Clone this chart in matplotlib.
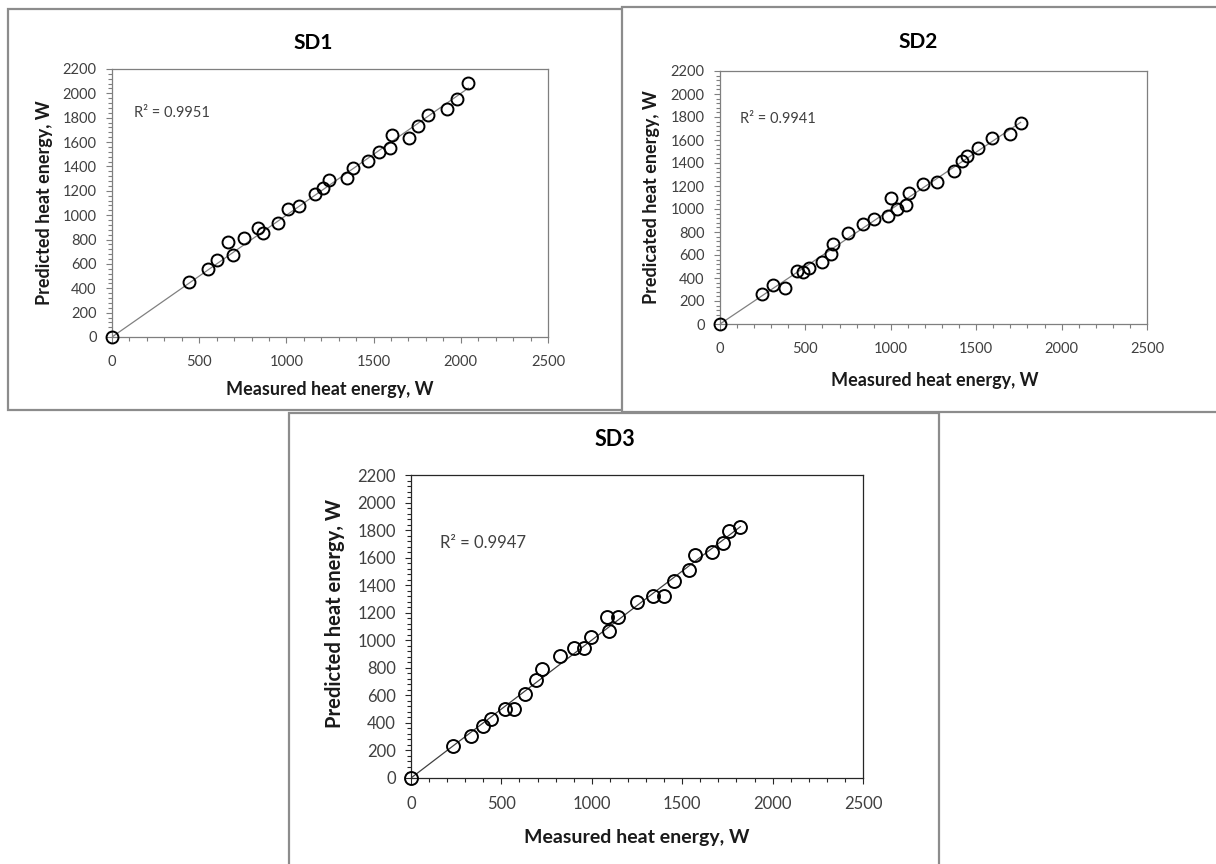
import numpy as np
import matplotlib
matplotlib.use("Agg")
import matplotlib.pyplot as plt
from matplotlib.patches import Rectangle
from matplotlib.ticker import MultipleLocator

plt.rcParams['font.family'] = ['Lato', 'DejaVu Sans']

W, H = 1216, 864

# values (W)
sd1_meas = [0, 443, 549, 600, 667, 692, 757, 835, 864, 954, 1007, 1070, 1164, 1212,
            1246, 1346, 1380, 1466, 1533, 1594, 1607, 1703, 1756, 1814, 1919, 1980, 2043]
sd1_pred = [0, 449, 556, 632, 777, 673, 810, 892, 851, 938, 1051, 1075, 1174, 1226,
            1289, 1303, 1390, 1445, 1516, 1549, 1658, 1636, 1735, 1822, 1872, 1951, 2088]

sd2_meas = [0, 244, 308, 381, 449, 484, 523, 595, 648, 663, 751, 839, 902, 982, 1001,
            1034, 1089, 1108, 1190, 1272, 1370, 1415, 1444, 1512, 1594, 1698, 1760]
sd2_pred = [0, 258, 339, 310, 464, 449, 490, 542, 606, 693, 794, 867, 910, 942, 1093,
            1000, 1035, 1136, 1215, 1237, 1330, 1417, 1461, 1527, 1614, 1652, 1750]

sd3_meas = [0, 230, 332, 400, 441, 520, 570, 631, 690, 726, 824, 902, 959, 996, 1086,
            1095, 1147, 1248, 1340, 1399, 1456, 1539, 1571, 1663, 1727, 1759, 1822]
sd3_pred = [0, 232, 305, 380, 426, 501, 499, 610, 712, 789, 886, 942, 942, 1026, 1167,
            1069, 1167, 1276, 1321, 1324, 1433, 1510, 1619, 1643, 1705, 1793, 1825]

r2_text = ["R\u00b2 = 0.9951", "R\u00b2 = 0.9941", "R\u00b2 = 0.9947"]
titles = ["SD1", "SD2", "SD3"]
ylabels = ["Predicted heat energy, W", "Predicated heat energy, W", "Predicted heat energy, W"]
xlabel = "Measured heat energy, W"


def fx(x):
    return x / W


def fy(y):
    return 1 - y / H


fig = plt.figure(figsize=(W / 100, H / 100), dpi=100)
fig.patch.set_facecolor("white")

# the three pasted chart boxes, later ones lie over earlier ones
frames = [(8, 9, 700, 410), (622, 7, 1240, 412), (289, 413, 939, 890)]
for i, (l, t, r, b) in enumerate(frames):
    fig.patches.append(Rectangle((fx(l), fy(b)), fx(r - l), (b - t) / H,
                                 transform=fig.transFigure, facecolor="white",
                                 edgecolor="#8c8c8c", linewidth=1.6, zorder=-3 + i))

panels = [
    dict(box=(112, 69, 548, 337), meas=sd1_meas, pred=sd1_pred, title=(313, 43),
         xl=(330, 390), yl=(45, 203), r2=(134, 113), fs_tick=10.5, fs_lab=13, fs_ylab=13,
         fs_title=15, line="#808080", spine="#7f7f7f", ms=8.6),
    dict(box=(720, 71, 1147, 324), meas=sd2_meas, pred=sd2_pred, title=(918, 42),
         xl=(935, 380), yl=(652, 197), r2=(740, 119), fs_tick=10.5, fs_lab=13, fs_ylab=13,
         fs_title=15, line="#808080", spine="#7f7f7f", ms=8.6),
    dict(box=(411, 475, 863, 778), meas=sd3_meas, pred=sd3_pred, title=(615, 439),
         xl=(637, 838), yl=(335, 614), r2=(440, 543), fs_tick=12, fs_lab=14, fs_ylab=14.5,
         fs_title=15.5, line="#404040", spine="#262626", ms=9.3),
]

for k, p in enumerate(panels):
    l, t, r, b = p["box"]
    ax = fig.add_axes([fx(l), fy(b), fx(r - l), (b - t) / H])
    x = np.array(p["meas"], dtype=float)
    y = np.array(p["pred"], dtype=float)
    # linear trendline through the origin
    slope = np.sum(x * y) / np.sum(x * x)
    xt = np.array([0, x.max()])
    ax.plot(xt, slope * xt, color=p["line"], linewidth=0.9, zorder=2)
    ax.plot(x, y, linestyle="none", marker="o", markersize=p["ms"],
            markerfacecolor="none", markeredgecolor="black", markeredgewidth=1.4,
            clip_on=False, zorder=3)
    ax.set_xlim(0, 2500)
    ax.set_ylim(0, 2200)
    ax.xaxis.set_major_locator(MultipleLocator(500))
    ax.xaxis.set_minor_locator(MultipleLocator(100))
    ax.yaxis.set_major_locator(MultipleLocator(200))
    ax.yaxis.set_minor_locator(MultipleLocator(40))
    for s in ax.spines.values():
        s.set_color(p["spine"])
        s.set_linewidth(0.9)
    ax.tick_params(which="both", direction="out", color=p["spine"], width=0.8,
                   labelcolor="#404040", labelsize=p["fs_tick"])
    ax.tick_params(which="major", length=4)
    ax.tick_params(which="minor", length=3)
    ax.tick_params(axis="x", which="major", pad=9)
    ax.tick_params(axis="y", which="major", pad=7)

    fig.text(fx(p["title"][0]), fy(p["title"][1]), titles[k], fontsize=p["fs_title"],
             fontweight="bold", ha="center", va="center", color="black")
    fig.text(fx(p["xl"][0]), fy(p["xl"][1]), xlabel, fontsize=p["fs_lab"],
             fontweight="bold", ha="center", va="center", color="#1a1a1a")
    fig.text(fx(p["yl"][0]), fy(p["yl"][1]), ylabels[k], fontsize=p["fs_ylab"],
             fontweight="bold", ha="center", va="center", rotation=90, color="#1a1a1a")
    fig.text(fx(p["r2"][0]), fy(p["r2"][1]), r2_text[k], fontsize=p["fs_tick"],
             ha="left", va="center", color="#404040")

fig.savefig("out.png", dpi=100)
